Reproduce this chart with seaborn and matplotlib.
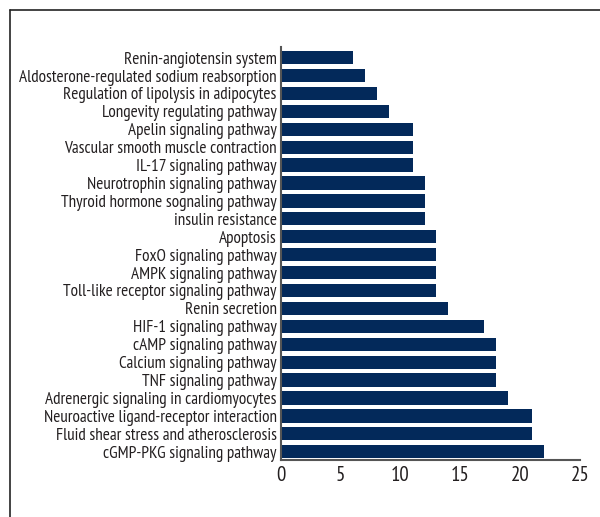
import pandas as pd
import matplotlib.pyplot as plt
import seaborn as sns
from matplotlib.lines import Line2D

# Pathway enrichment counts, top to bottom as drawn
pathways = [
    'Renin-angiotensin system',
    'Aldosterone-regulated sodium reabsorption',
    'Regulation of lipolysis in adipocytes',
    'Longevity regulating pathway',
    'Apelin signaling pathway',
    'Vascular smooth muscle contraction',
    'IL-17 signaling pathway',
    'Neurotrophin signaling pathway',
    'Thyroid hormone sognaling pathway',
    'insulin resistance',
    'Apoptosis',
    'FoxO signaling pathway',
    'AMPK signaling pathway',
    'Toll-like receptor signaling pathway',
    'Renin secretion',
    'HIF-1 signaling pathway',
    'cAMP signaling pathway',
    'Calcium signaling pathway',
    'TNF signaling pathway',
    'Adrenergic signaling in cardiomyocytes',
    'Neuroactive ligand-receptor interaction',
    'Fluid shear stress and atherosclerosis',
    'cGMP-PKG signaling pathway',
]
counts = [6, 7, 8, 9, 11, 11, 11, 12, 12, 12, 13, 13, 13, 13, 14,
          17, 18, 18, 18, 19, 21, 21, 22]
x_ticks = [0, 5, 10, 15, 20, 25]

data = pd.DataFrame({'Pathway': pathways, 'Count': counts})

sns.set_style('white')
plt.rcParams['font.family'] = ['PT Sans Narrow', 'Liberation Sans', 'DejaVu Sans']
text_color = '#231f20'

fig = plt.figure(figsize=(6, 5.17), dpi=100)
ax = fig.add_axes([0.468, 0.110, 0.499, 0.799])

sns.barplot(data=data, x='Count', y='Pathway', orient='h',
            color='#03295a', saturation=1, width=0.74, linewidth=0, ax=ax)

ax.set_xlim(0, 25)
ax.set_ylim(len(pathways) - 0.53, -0.59)
ax.set_xticks(x_ticks)
ax.set_xticklabels([str(t) for t in x_ticks], fontsize=15, color=text_color)
ax.set_yticklabels(pathways, fontsize=12.3, color=text_color)
ax.tick_params(axis='both', length=0, pad=3)
ax.tick_params(axis='x', pad=4)
ax.set_xlabel('')
ax.set_ylabel('')

for side in ['top', 'right']:
    ax.spines[side].set_visible(False)
for side in ['left', 'bottom']:
    ax.spines[side].set_color('#555555')
    ax.spines[side].set_linewidth(1.5)

# Outer frame lines (top and left) as in the source image
fig.add_artist(Line2D([10 / 600, 1], [1 - 10 / 517, 1 - 10 / 517],
                      transform=fig.transFigure, color='#222222', lw=1.2))
fig.add_artist(Line2D([10 / 600, 10 / 600], [0, 1 - 10 / 517],
                      transform=fig.transFigure, color='#222222', lw=1.2))

fig.savefig('out.png', dpi=100)
